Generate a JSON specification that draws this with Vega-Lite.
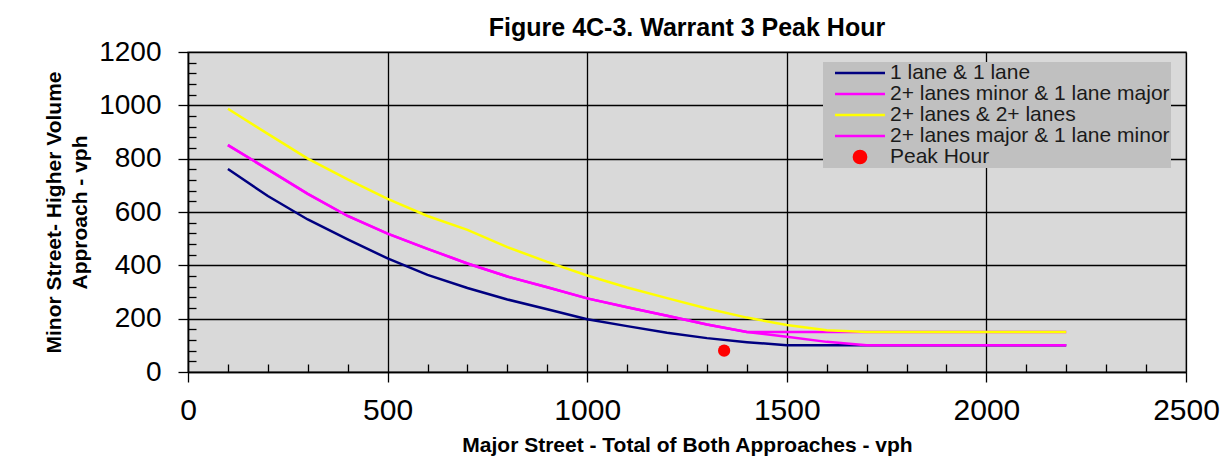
{
  "$schema": "https://vega.github.io/schema/vega-lite/v6.json",
  "width": 998,
  "height": 320,
  "autosize": {"type": "none"},
  "padding": {"left": 188, "top": 52, "right": 43, "bottom": 92},
  "background": "white",
  "title": {
    "text": "Figure 4C-3. Warrant 3 Peak Hour",
    "font": "Liberation Sans",
    "fontSize": 25,
    "fontWeight": "bold",
    "color": "#000000",
    "anchor": "middle",
    "frame": "group",
    "baseline": "bottom",
    "offset": 6,
    "dy": 34
  },
  "config": {
    "view": {"fill": "#d9d9d9", "stroke": "#8c8c8c", "strokeWidth": 1.5},
    "axis": {
      "labelFont": "Liberation Sans",
      "titleFont": "Liberation Sans",
      "labelColor": "#000000",
      "titleColor": "#000000",
      "domainColor": "#000000",
      "tickColor": "#000000",
      "gridColor": "#000000",
      "gridOpacity": 1,
      "gridWidth": 1.3,
      "domainWidth": 1.5,
      "tickWidth": 1.3
    }
  },
  "datasets": {
    "curves": [
      {"series": "1 lane & 1 lane", "major": 100, "minor": 761},
      {"series": "1 lane & 1 lane", "major": 200, "minor": 660},
      {"series": "1 lane & 1 lane", "major": 300, "minor": 572},
      {"series": "1 lane & 1 lane", "major": 400, "minor": 497},
      {"series": "1 lane & 1 lane", "major": 500, "minor": 426},
      {"series": "1 lane & 1 lane", "major": 600, "minor": 364},
      {"series": "1 lane & 1 lane", "major": 700, "minor": 315},
      {"series": "1 lane & 1 lane", "major": 800, "minor": 272},
      {"series": "1 lane & 1 lane", "major": 900, "minor": 235},
      {"series": "1 lane & 1 lane", "major": 1000, "minor": 198},
      {"series": "1 lane & 1 lane", "major": 1100, "minor": 172},
      {"series": "1 lane & 1 lane", "major": 1200, "minor": 147},
      {"series": "1 lane & 1 lane", "major": 1300, "minor": 127},
      {"series": "1 lane & 1 lane", "major": 1400, "minor": 112},
      {"series": "1 lane & 1 lane", "major": 1500, "minor": 100},
      {"series": "1 lane & 1 lane", "major": 2200, "minor": 100},
      {"series": "2+ lanes minor & 1 lane major", "major": 100, "minor": 851},
      {"series": "2+ lanes minor & 1 lane major", "major": 200, "minor": 760},
      {"series": "2+ lanes minor & 1 lane major", "major": 300, "minor": 668},
      {"series": "2+ lanes minor & 1 lane major", "major": 400, "minor": 585},
      {"series": "2+ lanes minor & 1 lane major", "major": 500, "minor": 519},
      {"series": "2+ lanes minor & 1 lane major", "major": 600, "minor": 462},
      {"series": "2+ lanes minor & 1 lane major", "major": 700, "minor": 407},
      {"series": "2+ lanes minor & 1 lane major", "major": 800, "minor": 358},
      {"series": "2+ lanes minor & 1 lane major", "major": 900, "minor": 318},
      {"series": "2+ lanes minor & 1 lane major", "major": 1000, "minor": 276},
      {"series": "2+ lanes minor & 1 lane major", "major": 1100, "minor": 243},
      {"series": "2+ lanes minor & 1 lane major", "major": 1200, "minor": 211},
      {"series": "2+ lanes minor & 1 lane major", "major": 1300, "minor": 178},
      {"series": "2+ lanes minor & 1 lane major", "major": 1400, "minor": 150},
      {"series": "2+ lanes minor & 1 lane major", "major": 2200, "minor": 150},
      {"series": "2+ lanes & 2+ lanes", "major": 100, "minor": 987},
      {"series": "2+ lanes & 2+ lanes", "major": 200, "minor": 893},
      {"series": "2+ lanes & 2+ lanes", "major": 300, "minor": 800},
      {"series": "2+ lanes & 2+ lanes", "major": 400, "minor": 722},
      {"series": "2+ lanes & 2+ lanes", "major": 500, "minor": 649},
      {"series": "2+ lanes & 2+ lanes", "major": 600, "minor": 585},
      {"series": "2+ lanes & 2+ lanes", "major": 700, "minor": 533},
      {"series": "2+ lanes & 2+ lanes", "major": 800, "minor": 468},
      {"series": "2+ lanes & 2+ lanes", "major": 900, "minor": 413},
      {"series": "2+ lanes & 2+ lanes", "major": 1000, "minor": 362},
      {"series": "2+ lanes & 2+ lanes", "major": 1100, "minor": 317},
      {"series": "2+ lanes & 2+ lanes", "major": 1200, "minor": 277},
      {"series": "2+ lanes & 2+ lanes", "major": 1300, "minor": 238},
      {"series": "2+ lanes & 2+ lanes", "major": 1400, "minor": 204},
      {"series": "2+ lanes & 2+ lanes", "major": 1500, "minor": 176},
      {"series": "2+ lanes & 2+ lanes", "major": 1600, "minor": 157},
      {"series": "2+ lanes & 2+ lanes", "major": 1700, "minor": 150},
      {"series": "2+ lanes & 2+ lanes", "major": 2200, "minor": 150},
      {"series": "2+ lanes major & 1 lane minor", "major": 100, "minor": 851},
      {"series": "2+ lanes major & 1 lane minor", "major": 200, "minor": 760},
      {"series": "2+ lanes major & 1 lane minor", "major": 300, "minor": 668},
      {"series": "2+ lanes major & 1 lane minor", "major": 400, "minor": 585},
      {"series": "2+ lanes major & 1 lane minor", "major": 500, "minor": 519},
      {"series": "2+ lanes major & 1 lane minor", "major": 600, "minor": 462},
      {"series": "2+ lanes major & 1 lane minor", "major": 700, "minor": 407},
      {"series": "2+ lanes major & 1 lane minor", "major": 800, "minor": 358},
      {"series": "2+ lanes major & 1 lane minor", "major": 900, "minor": 318},
      {"series": "2+ lanes major & 1 lane minor", "major": 1000, "minor": 276},
      {"series": "2+ lanes major & 1 lane minor", "major": 1100, "minor": 243},
      {"series": "2+ lanes major & 1 lane minor", "major": 1200, "minor": 211},
      {"series": "2+ lanes major & 1 lane minor", "major": 1300, "minor": 178},
      {"series": "2+ lanes major & 1 lane minor", "major": 1400, "minor": 150},
      {"series": "2+ lanes major & 1 lane minor", "major": 1500, "minor": 132},
      {"series": "2+ lanes major & 1 lane minor", "major": 1600, "minor": 113},
      {"series": "2+ lanes major & 1 lane minor", "major": 1700, "minor": 100},
      {"series": "2+ lanes major & 1 lane minor", "major": 2200, "minor": 100}
    ],
    "peak": [
      {"series": "Peak Hour", "major": 1343, "minor": 80}
    ]
  },
  "layer": [
    {
      "data": {"name": "curves"},
      "mark": {"type": "line", "strokeWidth": 2.5, "clip": true},
      "encoding": {
        "x": {
          "field": "major", "type": "quantitative",
          "scale": {"domain": [0, 2500], "nice": false, "zero": false},
          "axis": {
            "orient": "bottom",
            "values": [0, 500, 1000, 1500, 2000, 2500],
            "format": "d",
            "grid": true,
            "tickSize": 10,
            "labelFontSize": 30,
            "labelPadding": 13,
            "labelFlush": false,
            "labelOverlap": false,
            "title": "Major Street - Total of Both Approaches - vph",
            "titleFontSize": 21,
            "titleFontWeight": "bold",
            "titlePadding": 9
          }
        },
        "y": {
          "field": "minor", "type": "quantitative",
          "scale": {"domain": [0, 1200], "nice": false, "zero": false},
          "axis": {
            "orient": "left",
            "values": [0, 200, 400, 600, 800, 1000, 1200],
            "format": "d",
            "grid": true,
            "tickSize": 10,
            "labelFontSize": 28,
            "labelPadding": 17,
            "labelFlush": false,
            "labelOverlap": false,
            "title": ["Minor Street- Higher Volume", "Approach - vph"],
            "titleFontSize": 21,
            "titleFontWeight": "bold",
            "titleLineHeight": 26,
            "titlePadding": 8
          }
        },
        "color": {
          "field": "series", "type": "nominal",
          "scale": {
            "domain": ["1 lane & 1 lane", "2+ lanes minor & 1 lane major", "2+ lanes & 2+ lanes", "2+ lanes major & 1 lane minor", "Peak Hour"],
            "range": ["#000080", "#ff00ff", "#ffff00", "#ff00ff", "#ff0000"]
          },
          "legend": {
            "orient": "none",
            "legendX": 635,
            "legendY": 10,
            "title": null,
            "fillColor": "#c0c0c0",
            "padding": 1,
            "rowPadding": 0,
            "clipHeight": 20,
            "symbolType": "stroke",
            "symbolSize": 2500,
            "symbolStrokeWidth": 2.5,
            "labelFont": "Liberation Sans",
            "labelFontSize": 21,
            "labelColor": "#1a1a1a",
            "labelLimit": 500,
            "encode": {
              "symbols": {
                "update": {
                  "x": {"value": 36},
                  "shape": {"signal": "datum.label === 'Peak Hour' ? 'circle' : 'stroke'"},
                  "size": {"signal": "datum.label === 'Peak Hour' ? 150 : 2500"},
                  "fill": {"signal": "datum.label === 'Peak Hour' ? '#ff0000' : 'transparent'"},
                  "stroke": {"signal": "datum.label === 'Peak Hour' ? 'transparent' : scale('color', datum.value)"},
                  "strokeWidth": {"value": 2.5},
                  "opacity": {"value": 1}
                }
              },
              "labels": {
                "update": {"x": {"value": 66}}
              }
            }
          }
        }
      }
    },
    {
      "data": {"name": "peak"},
      "mark": {"type": "point", "filled": true, "size": 150, "opacity": 1},
      "encoding": {
        "x": {
          "field": "major", "type": "quantitative",
          "axis": {
            "orient": "bottom",
            "values": [100, 200, 300, 400, 600, 700, 800, 900, 1100, 1200, 1300, 1400, 1600, 1700, 1800, 1900, 2100, 2200, 2300, 2400],
            "offset": -8,
            "tickSize": 8,
            "domain": false,
            "labels": false,
            "grid": false,
            "title": null
          }
        },
        "y": {
          "field": "minor", "type": "quantitative",
          "axis": {
            "orient": "left",
            "values": [40, 80, 120, 160, 240, 280, 320, 360, 440, 480, 520, 560, 640, 680, 720, 760, 840, 880, 920, 960, 1040, 1080, 1120, 1160],
            "offset": -8,
            "tickSize": 8,
            "domain": false,
            "labels": false,
            "grid": false,
            "title": null
          }
        },
        "color": {"field": "series", "type": "nominal"}
      }
    }
  ],
  "resolve": {"axis": {"x": "independent", "y": "independent"}}
}
